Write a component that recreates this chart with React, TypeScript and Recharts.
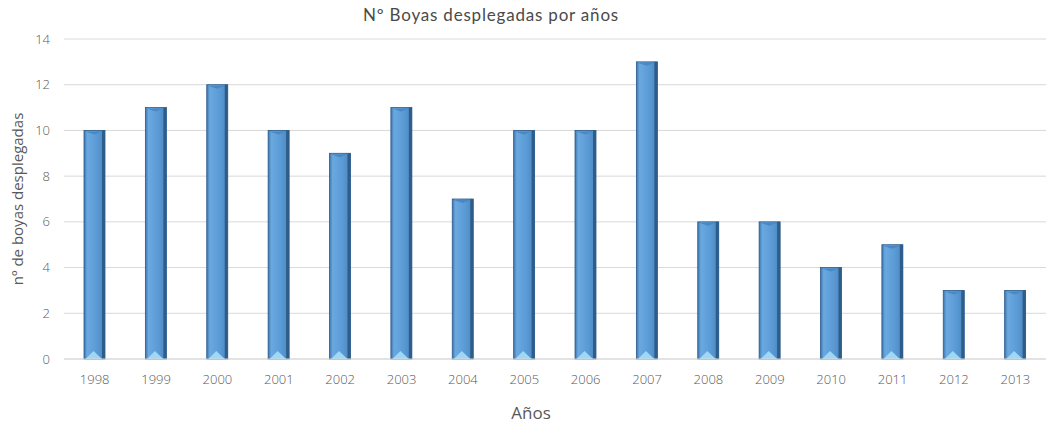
import { BarChart, Bar, XAxis, YAxis, CartesianGrid } from 'recharts'

const years = ['1998', '1999', '2000', '2001', '2002', '2003', '2004', '2005', '2006', '2007', '2008', '2009', '2010', '2011', '2012', '2013']
const boyas = [10, 11, 12, 10, 9, 11, 7, 10, 10, 13, 6, 6, 4, 5, 3, 3]
const yTicks = [0, 2, 4, 6, 8, 10, 12, 14]

const data = years.map((y, i) => ({ year: y, boyas: boyas[i] }))

const tickStyle = { fontSize: 13, fill: '#595959', fontFamily: 'Open Sans, sans-serif', fontWeight: 300 }

function BevelBar(props: any) {
  const { x, y, width, height } = props
  if (!height || height <= 0) return null
  const tri = Math.min(8, height / 3)
  return (
    <g>
      <rect x={x} y={y} width={width} height={height} fill="url(#barGrad)" stroke="#2b5b8c" strokeWidth={0.8} />
      <rect x={x + width - 3} y={y} width={3} height={height} fill="#2e5d89" />
      <polygon
        points={`${x + 1.5},${y + height} ${x + width / 2 - 1},${y + height - tri} ${x + width - 3},${y + height}`}
        fill="#9fd7f7"
      />
      <polygon
        points={`${x + 1},${y + 1} ${x + width / 2},${y + 4} ${x + width - 3},${y + 1}`}
        fill="#4a88c4"
      />
    </g>
  )
}

export default function App() {
  return (
    <div style={{ position: 'absolute', left: 0, top: 0, width: 1046, height: 425, background: '#fff', overflow: 'hidden' }}>
      <div
        style={{
          position: 'absolute',
          top: 5,
          left: 363,
          whiteSpace: 'nowrap',
          fontFamily: 'Lato, sans-serif',
          fontSize: 17,
          letterSpacing: 0.8,
          color: '#4a4a4a',
          lineHeight: '20px',
        }}
      >
        Nº Boyas desplegadas por años
      </div>
      <BarChart width={1046} height={425} data={data} margin={{ top: 39, right: 0, bottom: 0, left: 0 }} barSize={21}>
        <defs>
          <linearGradient id="barGrad" x1="0" y1="0" x2="1" y2="0">
            <stop offset="0%" stopColor="#3d74ad" />
            <stop offset="15%" stopColor="#6aa8e0" />
            <stop offset="60%" stopColor="#5b9bd5" />
            <stop offset="100%" stopColor="#4a86c0" />
          </linearGradient>
        </defs>
        <CartesianGrid vertical={false} stroke="#d9d9d9" />
        <XAxis
          dataKey="year"
          height={66}
          tick={tickStyle}
          tickLine={false}
          axisLine={{ stroke: '#d9d9d9' }}
          tickMargin={10}
          label={{
            value: 'Años',
            position: 'insideBottom',
            offset: 6,
            dx: -24,
            style: { fontSize: 17, fill: '#595959', fontFamily: 'Open Sans, sans-serif' },
          }}
        />
        <YAxis
          width={64}
          domain={[0, 14]}
          ticks={yTicks}
          tick={tickStyle}
          tickLine={false}
          axisLine={false}
          tickMargin={8}
          label={{
            value: 'nº de boyas desplegadas',
            angle: -90,
            position: 'insideLeft',
            offset: 18,
            style: { textAnchor: 'middle', fontSize: 15, fill: '#595959', fontFamily: 'Open Sans, sans-serif' },
          }}
        />
        <Bar dataKey="boyas" shape={BevelBar} isAnimationActive={false} />
      </BarChart>
    </div>
  )
}
